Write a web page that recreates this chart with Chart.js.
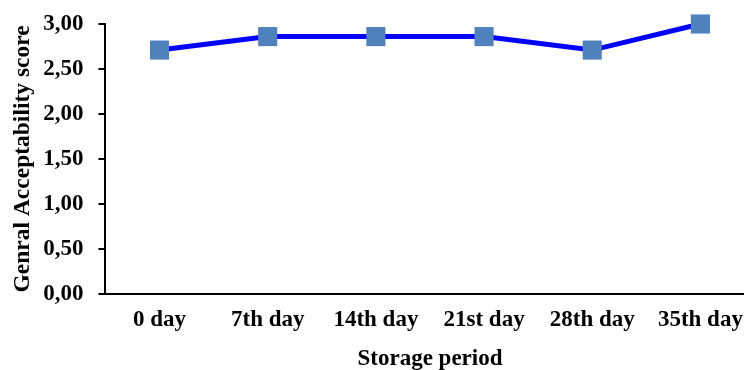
<!DOCTYPE html>
<html>
<head>
<meta charset="utf-8">
<script src="https://cdn.jsdelivr.net/npm/chart.js@4"></script>
<style>
  html, body { margin: 0; padding: 0; background: #fff; overflow: hidden; }
  /* the plot area runs past the right edge of the page in the original */
  #wrap { width: 768px; height: 370px; }
</style>
</head>
<body>
<div id="wrap"><canvas id="chart-line"></canvas></div>
<script>
var storageDays = ['0 day', '7th day', '14th day', '21st day', '28th day', '35th day'];
var acceptScores = [2.71, 2.86, 2.86, 2.86, 2.71, 3.00];
var yTicks = [0, 0.5, 1, 1.5, 2, 2.5, 3];

var serif = '"Liberation Serif", "Times New Roman", serif';

var ctxLine = document.getElementById('chart-line');
var chartLine = new Chart(ctxLine, {
    type: 'line',
    data: {
        labels: storageDays,
        datasets: [{
            label: 'Genral Acceptability score',
            data: acceptScores,
            borderColor: '#0000ff',
            borderWidth: 5,
            pointStyle: 'rect',
            pointRadius: 13.5,
            pointHoverRadius: 13.5,
            pointBackgroundColor: '#4f81bd',
            pointBorderColor: '#4f81bd',
            pointBorderWidth: 0,
            tension: 0,
            clip: false
        }]
    },
    options: {
        responsive: true,
        maintainAspectRatio: false,
        animation: false,
        layout: { padding: { top: 24, right: 0, left: 9, bottom: -3 } },
        plugins: { legend: { display: false }, tooltip: { enabled: false } },
        scales: {
            x: {
                offset: true,
                grid: { display: false },
                border: { display: true, color: '#000', width: 2 },
                ticks: { color: '#000', padding: 4, maxRotation: 0, autoSkip: false,
                    font: { family: serif, size: 23, weight: 'bold' } },
                title: { display: true, text: 'Storage period', color: '#000',
                    padding: { top: 8, bottom: 0 },
                    font: { family: serif, size: 23, weight: 'bold' } }
            },
            y: {
                min: 0,
                max: 3,
                afterBuildTicks: function (axis) {
                    axis.ticks = yTicks.map(function (v) { return { value: v }; });
                },
                // let layout.padding.top decide where the 3,00 line sits
                afterFit: function (axis) {
                    axis.paddingTop = 0;
                },
                grid: { display: true, drawOnChartArea: false, drawTicks: true,
                    tickLength: 7, color: '#000', lineWidth: 2 },
                border: { display: true, color: '#000', width: 2 },
                ticks: { color: '#000', padding: 15,
                    font: { family: serif, size: 23, weight: 'bold' },
                    callback: function (v) { return Number(v).toFixed(2).replace('.', ','); } },
                title: { display: true, text: 'Genral Acceptability score', color: '#000',
                    padding: { top: 0, bottom: -9 },
                    font: { family: serif, size: 23.5, weight: 'bold' } }
            }
        }
    }
});
</script>
</body>
</html>
